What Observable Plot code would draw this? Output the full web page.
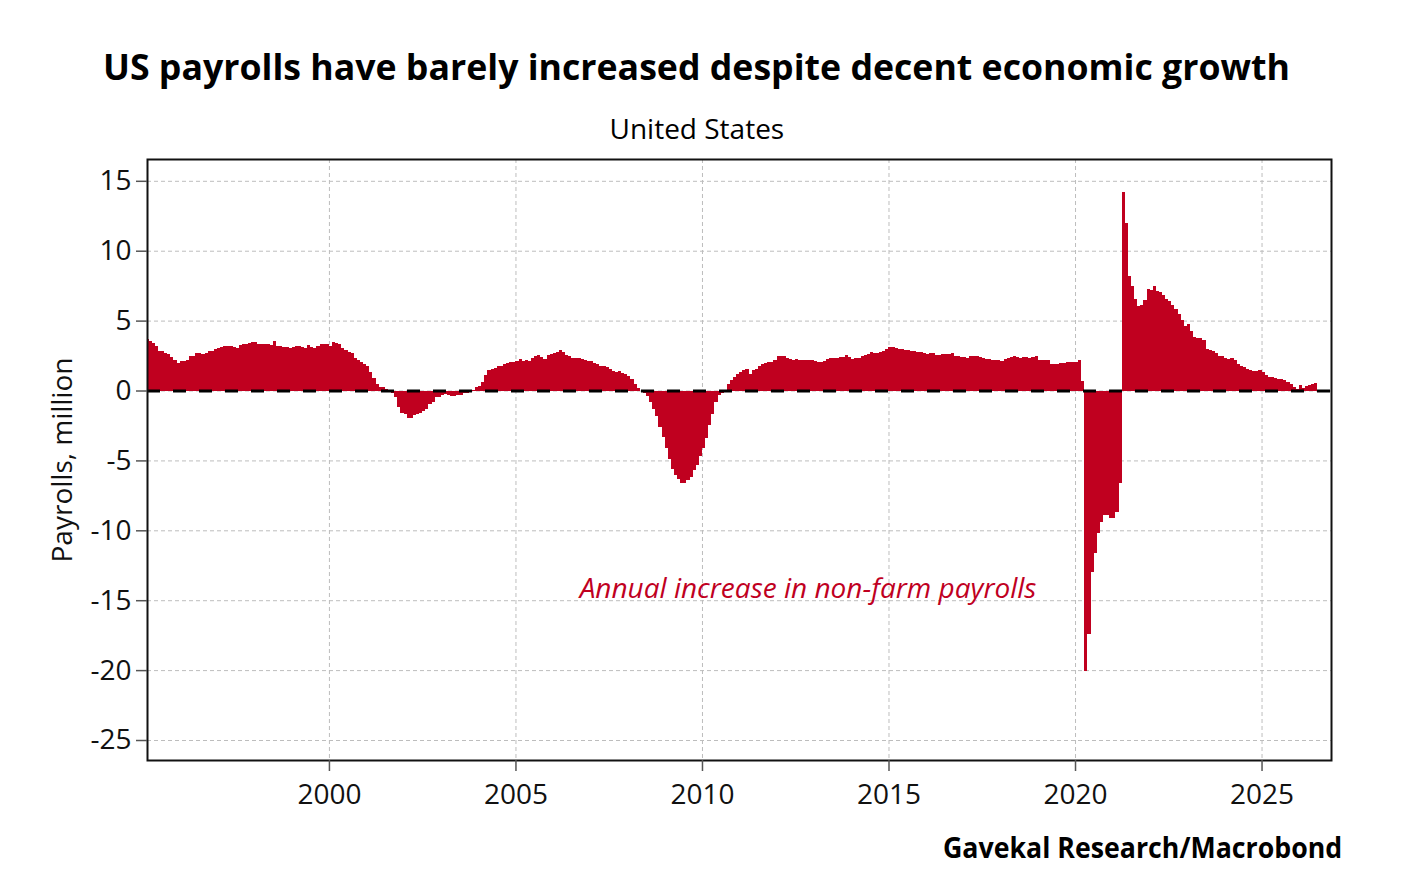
<!DOCTYPE html>
<html>
<head>
<meta charset="utf-8">
<script src="https://cdn.jsdelivr.net/npm/d3@7"></script>
<script src="https://cdn.jsdelivr.net/npm/@observablehq/plot@0.6"></script>
<style>
  html, body { margin: 0; padding: 0; background: #fff; }
  #wrap { position: relative; width: 1410px; height: 890px; overflow: hidden; font-family: "Open Sans", "Noto Sans", sans-serif; color: #000; }
  .t { position: absolute; white-space: nowrap; line-height: 1; transform-origin: 0 0; display: inline-block; }
  #title { font-weight: 700; font-size: 35px; top: 49px; }
  #subtitle { font-weight: 400; font-size: 28px; top: 114px; }
  #caption { font-weight: 700; font-size: 28px; top: 833px; }
  #chart { position: absolute; left: 0; top: 0; }
</style>
</head>
<body>
<div id="wrap">
  <div id="chart"></div>
  <div class="t" id="title">US payrolls have barely increased despite decent economic growth</div>
  <div class="t" id="subtitle">United States</div>
  <div class="t" id="caption">Gavekal Research/Macrobond</div>
</div>
<script>
// Annual change in US non-farm payrolls, million (monthly values; 1995 starts in February)
const y1995 = [3.71, 3.57, 3.4, 3.2, 2.85, 2.8, 2.7, 2.64, 2.4, 2.15, 1.95];
const y1996 = [2.1, 2.12, 2.15, 2.45, 2.5, 2.65, 2.65, 2.6, 2.7, 2.8, 2.85, 3.0];
const y1997 = [3.05, 3.1, 3.15, 3.2, 3.15, 3.1, 3.05, 3.25, 3.3, 3.3, 3.4, 3.45];
const y1998 = [3.48, 3.3, 3.3, 3.35, 3.35, 3.25, 3.52, 3.2, 3.15, 3.1, 3.1, 3.05];
const y1999 = [3.1, 3.2, 3.15, 3.1, 3.05, 3.25, 3.1, 3.05, 3.2, 3.3, 3.3, 3.35];
const y2000 = [3.2, 3.45, 3.4, 3.35, 3.05, 2.9, 2.75, 2.65, 2.3, 2.15, 2.05, 1.9];
const y2001 = [1.72, 1.3, 0.9, 0.5, 0.28, 0.22, 0.1, 0.05, -0.15, -0.5, -1.2, -1.6];
const y2002 = [-1.7, -1.95, -1.95, -1.75, -1.7, -1.6, -1.5, -1.3, -0.95, -0.8, -0.5, -0.45];
const y2003 = [-0.3, -0.25, -0.35, -0.36, -0.4, -0.35, -0.3, -0.17, -0.15, -0.05, 0.07, 0.24];
const y2004 = [0.3, 0.6, 1.1, 1.45, 1.55, 1.62, 1.74, 1.78, 1.9, 1.95, 2.02, 2.05];
const y2005 = [2.1, 2.26, 2.1, 2.15, 2.1, 2.3, 2.5, 2.57, 2.4, 2.25, 2.55, 2.62];
const y2006 = [2.65, 2.75, 2.9, 2.72, 2.57, 2.5, 2.35, 2.33, 2.3, 2.28, 2.16, 2.13];
const y2007 = [2.08, 2.0, 1.9, 1.75, 1.72, 1.68, 1.55, 1.38, 1.33, 1.38, 1.26, 1.19];
const y2008 = [1.05, 0.8, 0.5, 0.15, -0.05, -0.2, -0.4, -0.8, -1.3, -1.8, -2.6, -3.3];
const y2009 = [-4.1, -4.9, -5.6, -6.05, -6.35, -6.6, -6.6, -6.4, -6.2, -5.7, -5.3, -4.7];
const y2010 = [-4.1, -3.4, -2.5, -1.7, -0.8, -0.3, -0.17, -0.05, 0.5, 0.75, 1.0, 1.2];
const y2011 = [1.3, 1.5, 1.55, 1.2, 1.45, 1.55, 1.72, 1.9, 2.0, 2.02, 2.05, 2.2];
const y2012 = [2.45, 2.5, 2.45, 2.33, 2.26, 2.17, 2.26, 2.2, 2.2, 2.17, 2.2, 2.2];
const y2013 = [2.1, 2.05, 2.02, 2.1, 2.25, 2.33, 2.33, 2.33, 2.38, 2.4, 2.57, 2.4];
const y2014 = [2.28, 2.3, 2.35, 2.45, 2.55, 2.64, 2.74, 2.7, 2.66, 2.72, 2.83, 2.95];
const y2015 = [3.08, 3.1, 3.05, 2.98, 2.98, 2.93, 2.88, 2.8, 2.8, 2.74, 2.74, 2.69];
const y2016 = [2.64, 2.7, 2.7, 2.55, 2.57, 2.6, 2.6, 2.62, 2.69, 2.5, 2.45, 2.4];
const y2017 = [2.4, 2.33, 2.45, 2.5, 2.5, 2.4, 2.3, 2.26, 2.22, 2.17, 2.2, 2.17];
const y2018 = [2.12, 2.26, 2.33, 2.4, 2.45, 2.4, 2.35, 2.4, 2.4, 2.36, 2.38, 2.45];
const y2019 = [2.2, 2.17, 2.17, 2.2, 1.93, 1.93, 1.93, 1.98, 2.0, 2.02, 2.02, 2.02];
const y2020 = [2.02, 2.2, 0.66, -20.05, -17.4, -13.0, -11.6, -10.2, -9.4, -8.9, -8.9, -9.1];
const y2021 = [-9.1, -8.7, -6.6, 14.2, 12.0, 8.2, 7.5, 6.55, 6.07, 6.1, 6.5, 7.26];
const y2022 = [7.21, 7.45, 7.1, 7.02, 6.86, 6.55, 6.38, 6.14, 5.83, 5.5, 5.05, 4.6];
const y2023 = [4.79, 4.24, 3.83, 3.78, 3.76, 3.6, 2.98, 2.9, 2.84, 2.65, 2.5, 2.5];
const y2024 = [2.3, 2.22, 2.33, 2.15, 1.9, 1.76, 1.65, 1.55, 1.5, 1.4, 1.38, 1.45];
const y2025 = [1.31, 1.14, 0.98, 0.95, 0.9, 0.83, 0.83, 0.74, 0.6, 0.43, 0.26, 0.12];
const y2026 = [0.36, 0.19, 0.31, 0.38, 0.43, 0.55];

const years = [1995, 1996, 1997, 1998, 1999, 2000, 2001, 2002, 2003, 2004, 2005, 2006, 2007, 2008, 2009, 2010,
               2011, 2012, 2013, 2014, 2015, 2016, 2017, 2018, 2019, 2020, 2021, 2022, 2023, 2024, 2025, 2026];
const yearly = [y1995, y1996, y1997, y1998, y1999, y2000, y2001, y2002, y2003, y2004, y2005, y2006, y2007, y2008, y2009, y2010,
                y2011, y2012, y2013, y2014, y2015, y2016, y2017, y2018, y2019, y2020, y2021, y2022, y2023, y2024, y2025, y2026];
const firstMonth = 1; // February 1995

const xTicks = [2000, 2005, 2010, 2015, 2020, 2025];
const yTicks = [-25, -20, -15, -10, -5, 0, 5, 10, 15];
const seriesLabel = ["Annual increase in non-farm payrolls"];

// build monthly rows
const rows = [];
yearly.forEach((arr, i) => {
  const yr = years[i];
  const m0 = i === 0 ? firstMonth : 0;
  arr.forEach((v, j) => rows.push({x1: yr + (m0 + j) / 12, x2: yr + (m0 + j + 1) / 12, value: v}));
});

const RED = "#c0001f";
const gridStyle = {stroke: "#bdbdbd", strokeOpacity: 1, strokeWidth: 1, strokeDasharray: "4,3"};

const chart = Plot.plot({
  width: 1410,
  height: 890,
  marginLeft: 147,
  marginRight: 79,
  marginTop: 159,
  marginBottom: 130,
  style: {fontFamily: '"Open Sans", "Noto Sans", sans-serif', fontSize: "28px", color: "#111", background: "transparent", overflow: "visible"},
  x: {type: "linear", domain: [1995.123, 2026.862]},
  y: {type: "linear", domain: [-26.43, 16.56]},
  marks: [
    Plot.gridX(xTicks, gridStyle),
    Plot.gridY(yTicks, gridStyle),
    Plot.rect(rows, {x1: "x1", x2: "x2", y1: () => 0, y2: "value", fill: RED, shapeRendering: "crispEdges", clip: true}),
    Plot.ruleY([0], {stroke: "#000", strokeWidth: 3, strokeDasharray: "13,13"}),
    Plot.text(seriesLabel, {x: 2012.83, y: -14.2, text: d => d, fill: RED, fontStyle: "italic", fontSize: 28}),
    Plot.frame({stroke: "#111", strokeWidth: 2}),
    Plot.axisX(xTicks, {tickFormat: d => String(d), tickSize: 11, tickPadding: 13, stroke: "#555", strokeWidth: 1.5, label: null}),
    Plot.axisY(yTicks, {tickFormat: d => String(d), tickSize: 11, tickPadding: 5, stroke: "#555", strokeWidth: 1.5,
      label: "Payrolls, million", labelAnchor: "center", labelArrow: "none", labelOffset: 95})
  ]
});
document.getElementById("chart").appendChild(chart);

// fit the HTML texts to the reference widths (offsetWidth ignores transforms)
function place(id, left, width, centerX) {
  const el = document.getElementById(id);
  const w = el.offsetWidth;
  if (width) {
    el.style.transform = `scaleX(${width / w})`;
    el.style.left = left + "px";
  } else {
    el.style.left = (centerX - w / 2) + "px";
  }
}
function layout() {
  place("title", 103, 1187);
  place("subtitle", 0, 0, 697);
  place("caption", 943, 399);
}
layout();
if (document.fonts && document.fonts.ready) document.fonts.ready.then(layout);
</script>
</body>
</html>
